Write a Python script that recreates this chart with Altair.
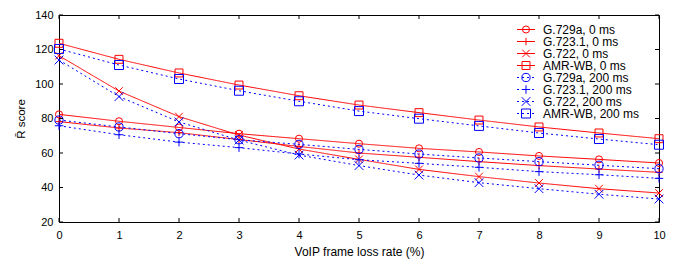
import altair as alt
import pandas as pd

# ---- data ----
loss_rate = list(range(11))
series = ["G.729a, 0 ms", "G.723.1, 0 ms", "G.722, 0 ms", "AMR-WB, 0 ms",
          "G.729a, 200 ms", "G.723.1, 200 ms", "G.722, 200 ms", "AMR-WB, 200 ms"]
g729a_0 = [82.4, 78.4, 74.8, 71.2, 68.3, 65.4, 62.7, 60.6, 58.3, 56.3, 54.2]
g7231_0 = [78.2, 74.5, 71.8, 67.8, 63.8, 60.0, 57.5, 55.0, 52.7, 50.7, 48.8]
g722_0 = [116.4, 95.9, 81.1, 70.4, 62.3, 56.3, 50.5, 46.3, 42.6, 39.3, 36.8]
amrwb_0 = [123.6, 114.3, 106.4, 99.4, 93.2, 87.8, 83.4, 79.1, 75.1, 71.6, 68.3]
g729a_200 = [79.1, 75.1, 71.2, 67.7, 65.0, 62.1, 59.4, 57.1, 55.0, 52.9, 50.9]
g7231_200 = [75.8, 70.6, 66.3, 63.1, 59.4, 56.1, 54.0, 51.7, 49.2, 47.4, 45.3]
g722_200 = [113.9, 92.7, 78.0, 67.5, 58.8, 52.7, 47.2, 42.8, 39.3, 36.1, 33.3]
amrwb_200 = [120.3, 111.0, 102.9, 96.1, 90.0, 84.3, 79.9, 75.7, 71.6, 68.1, 64.8]
values = [g729a_0, g7231_0, g722_0, amrwb_0, g729a_200, g7231_200, g722_200, amrwb_200]
delays = [0, 0, 0, 0, 200, 200, 200, 200]
x_ticks = list(range(11))
y_ticks = [20, 40, 60, 80, 100, 120, 140]

# ---- styles ----
colors = ["#ff0000"] * 4 + ["#0000ff"] * 4
dashes = [[1, 0]] * 4 + [[2, 3]] * 4
PLUS = "M-1,0L1,0M0,-1L0,1"
CROSS = "M-1,-1L1,1M-1,1L1,-1"
shapes = ["circle", PLUS, CROSS, "square"] * 2
sizes = [50, 81, 64, 56] * 2
FONT = "Liberation Sans"

rows = []
for s, d, vals in zip(series, delays, values):
    for x, v in zip(loss_rate, vals):
        rows.append({"series": s, "delay": d, "x": x, "y": v})
df = pd.DataFrame(rows)
legend_df = pd.DataFrame({"series": series, "idx": list(range(len(series)))})
xt = pd.DataFrame({"x": x_ticks})
yt = pd.DataFrame({"y": y_ticks})

xsc = alt.Scale(domain=[0, 10], nice=False, zero=False)
ysc = alt.Scale(domain=[20, 140], nice=False, zero=False)
x_enc = alt.X("x:Q", scale=xsc, axis=alt.Axis(
    values=x_ticks, title="VoIP frame loss rate (%)", ticks=False, tickSize=0,
    domain=False, grid=False, labelFlush=False, labelPadding=7, titlePadding=6,
    labelFontSize=11, titleFontSize=12, titleFontWeight="normal",
    labelFont=FONT, titleFont=FONT, labelColor="black", titleColor="black"))
y_enc = alt.Y("y:Q", scale=ysc, axis=alt.Axis(
    values=y_ticks, title="R\u0304 score", ticks=False, tickSize=0,
    domain=False, grid=False, labelFlush=False, labelPadding=6, titlePadding=8,
    labelFontSize=11, titleFontSize=11.5, titleFontWeight="normal",
    labelFont=FONT, titleFont=FONT, labelColor="black", titleColor="black"))

color = alt.Color("series:N", scale=alt.Scale(domain=series, range=colors), legend=None)
dash = alt.StrokeDash("series:N", scale=alt.Scale(domain=series, range=dashes), legend=None)
shape = alt.Shape("series:N", scale=alt.Scale(domain=series, range=shapes), legend=None)
size = alt.Size("series:N", scale=alt.Scale(domain=series, range=sizes), legend=None)

base = alt.Chart(df)
layers = []
for d in [0, 200]:
    sub = base.transform_filter(alt.datum.delay == d)
    layers.append(sub.mark_line(strokeWidth=1).encode(x=x_enc, y=y_enc, color=color, strokeDash=dash))
    layers.append(sub.mark_point(filled=False, strokeWidth=1, opacity=1).encode(
        x=x_enc, y=y_enc, color=color, shape=shape, size=size))

tick_len = 4
layers.append(alt.Chart(xt).mark_rule(color="black", strokeWidth=1).encode(
    x=x_enc, y=alt.value(207), y2=alt.value(207 - tick_len)))
layers.append(alt.Chart(xt).mark_rule(color="black", strokeWidth=1).encode(
    x=x_enc, y=alt.value(0), y2=alt.value(tick_len)))
layers.append(alt.Chart(yt).mark_rule(color="black", strokeWidth=1).encode(
    y=y_enc, x=alt.value(0), x2=alt.value(tick_len)))
layers.append(alt.Chart(yt).mark_rule(color="black", strokeWidth=1).encode(
    y=y_enc, x=alt.value(600), x2=alt.value(600 - tick_len)))
main = alt.layer(*layers)

ly = alt.Y("idx:Q", scale=alt.Scale(domain=[0, 7], range=[14.5, 98.5]), axis=None)
lbase = alt.Chart(legend_df)
leg = alt.layer(
    lbase.mark_rule(strokeWidth=1).encode(
        x=alt.value(458), x2=alt.value(476), y=ly, color=color, strokeDash=dash),
    lbase.mark_point(filled=False, strokeWidth=1, opacity=1).encode(
        x=alt.value(467), y=ly, color=color, shape=shape, size=size),
    lbase.mark_text(align="left", baseline="middle", fontSize=12, font=FONT, color="black").encode(
        x=alt.value(484), y=ly, text="series:N"),
)

chart = alt.layer(main, leg).resolve_scale(y="independent").properties(
    width=600, height=207,
    padding={"left": 51, "top": 7, "right": 11, "bottom": 38},
    autosize=alt.AutoSizeParams(type="none"),
    background="white",
).configure_view(stroke="black", strokeWidth=1)

chart.save("out.html", embed_options={"renderer": "svg", "actions": False})
